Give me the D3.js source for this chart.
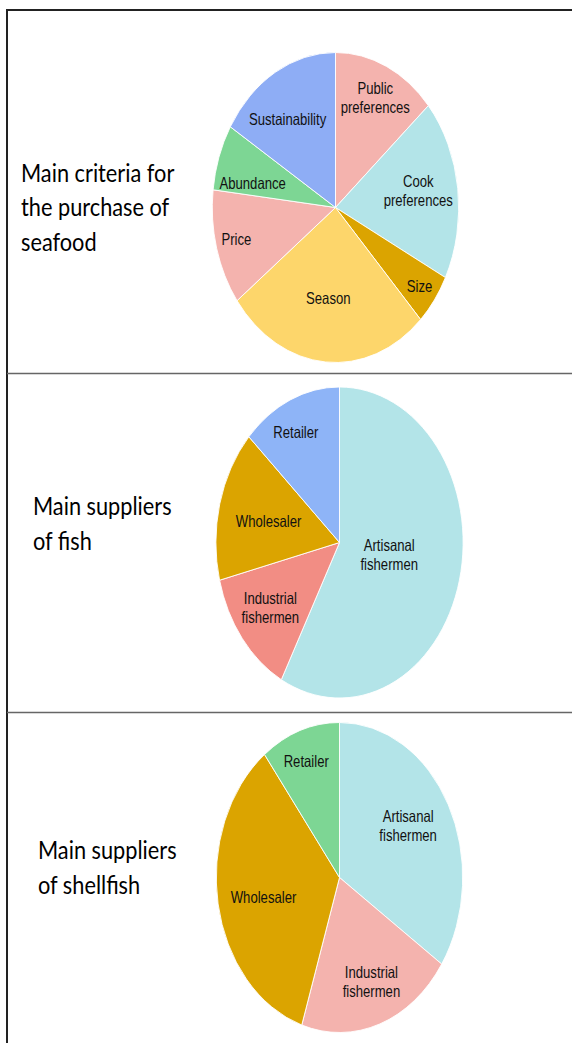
<!DOCTYPE html>
<html>
<head>
<meta charset="utf-8">
<script src="https://cdn.jsdelivr.net/npm/d3@7"></script>
<style>
  body { margin: 0; background: #fff; }
  svg { display: block; }
</style>
</head>
<body>
<svg id="chart"></svg>
<script>
// Data (shares, %)
const criteriaLabels = ["Public preferences", "Cook preferences", "Size", "Season", "Price", "Abundance", "Sustainability"];
const criteriaValues = [13.6, 18.9, 5.4, 26.9, 12.1, 6.9, 16.3];

const fishLabels = ["Artisanal fishermen", "Industrial fishermen", "Wholesaler", "Retailer"];
const fishValues = [57.8, 13.3, 15.8, 13.1];

const shellfishLabels = ["Artisanal fishermen", "Industrial fishermen", "Wholesaler", "Retailer"];
const shellfishValues = [34.4, 20.5, 34.6, 10.4];

const titles = [
    ["Main criteria for", "the purchase of", "seafood"],
    ["Main suppliers", "of fish"],
    ["Main suppliers", "of shellfish"]
];

// Layout / styles
const W = 572, H = 1043;
const sx = 0.795;     // pies and labels are squeezed horizontally
const titleSx = 0.87; // titles a bit less

const panels = [
    {labels: criteriaLabels, values: criteriaValues, title: titles[0],
     cx: 335.5, cy: 207.5, r: 155, tx: 21, ty: 181.5,
     colors: ["#f4b3ae", "#b3e4e8", "#dba400", "#fdd66b", "#f4b3ae", "#7dd694", "#8eadf5"],
     labelR: [0.78, 0.68, 0.85, 0.59, 0.83, 0.69, 0.69],
     labelShift: [0, -2, 0, 1, 1, -6, -5]},
    {labels: fishLabels, values: fishValues, title: titles[1],
     cx: 339.5, cy: 542.5, r: 155.5, tx: 33, ty: 515,
     colors: ["#b3e4e8", "#f28d84", "#dba400", "#8eb4f7"],
     labelR: [0.41, 0.70, 0.59, 0.79],
     labelShift: [-3, 1, -1, -3]},
    {labels: shellfishLabels, values: shellfishValues, title: titles[2],
     cx: 339.5, cy: 877.5, r: 155, tx: 38, ty: 859,
     colors: ["#b3e4e8", "#f4b3ae", "#dba400", "#7dd694"],
     labelR: [0.65, 0.72, 0.63, 0.80],
     labelShift: [-3, -2, -2, -1]}
];

const svg = d3.select("#chart")
    .attr("width", W)
    .attr("height", H);

// Frame and separators
svg.append("line").attr("x1", 7).attr("x2", W).attr("y1", 10).attr("y2", 10)
    .attr("stroke", "#222").attr("stroke-width", 2);
svg.append("line").attr("x1", 7).attr("x2", 7).attr("y1", 9).attr("y2", H)
    .attr("stroke", "#222").attr("stroke-width", 2);
[373.5, 712.5].forEach(y => {
    svg.append("line").attr("x1", 7).attr("x2", W).attr("y1", y).attr("y2", y)
        .attr("stroke", "#666").attr("stroke-width", 1.5);
});

const pie = d3.pie().sort(null).value(d => d.value);

panels.forEach(p => {
    const data = p.labels.map((l, i) => ({
        label: l, value: p.values[i], color: p.colors[i],
        k: p.labelR[i], shift: p.labelShift[i] * Math.PI / 180
    }));
    const arc = d3.arc().innerRadius(0).outerRadius(p.r);

    const g = svg.append("g")
        .attr("transform", `translate(${p.cx}, ${p.cy}) scale(${sx}, 1)`);

    const slices = g.selectAll("g.slice")
        .data(pie(data))
        .enter()
        .append("g")
        .attr("class", "slice");

    slices.append("path")
        .attr("d", arc)
        .attr("fill", d => d.data.color)
        .attr("stroke", "#fff")
        .attr("stroke-width", 1);

    // Slice labels (centroid of a thin ring, nudged a little along the angle)
    slices.each(function(d) {
        const la = d3.arc().innerRadius(p.r * d.data.k).outerRadius(p.r * d.data.k);
        const [lx, ly] = la.centroid({startAngle: d.startAngle + d.data.shift, endAngle: d.endAngle + d.data.shift});
        const words = d.data.label.split(" ");
        const lh = 19;
        const t = d3.select(this).append("text")
            .attr("text-anchor", "middle")
            .attr("font-family", "Liberation Sans, Arial, sans-serif")
            .attr("font-size", 16.5)
            .attr("fill", "#111");
        words.forEach((w, i) => {
            t.append("tspan")
                .attr("x", lx)
                .attr("y", ly + (i - (words.length - 1) / 2) * lh)
                .attr("dy", "0.35em")
                .text(w);
        });
    });

    // Title on the left
    const tt = svg.append("text")
        .attr("transform", `translate(${p.tx}, ${p.ty}) scale(${titleSx}, 1)`)
        .attr("font-family", "Lato, 'Open Sans', sans-serif")
        .attr("font-size", 25)
        .attr("fill", "#000");
    p.title.forEach((line, i) => {
        tt.append("tspan").attr("x", 0).attr("y", i * 35).text(line);
    });
});
</script>
</body>
</html>
